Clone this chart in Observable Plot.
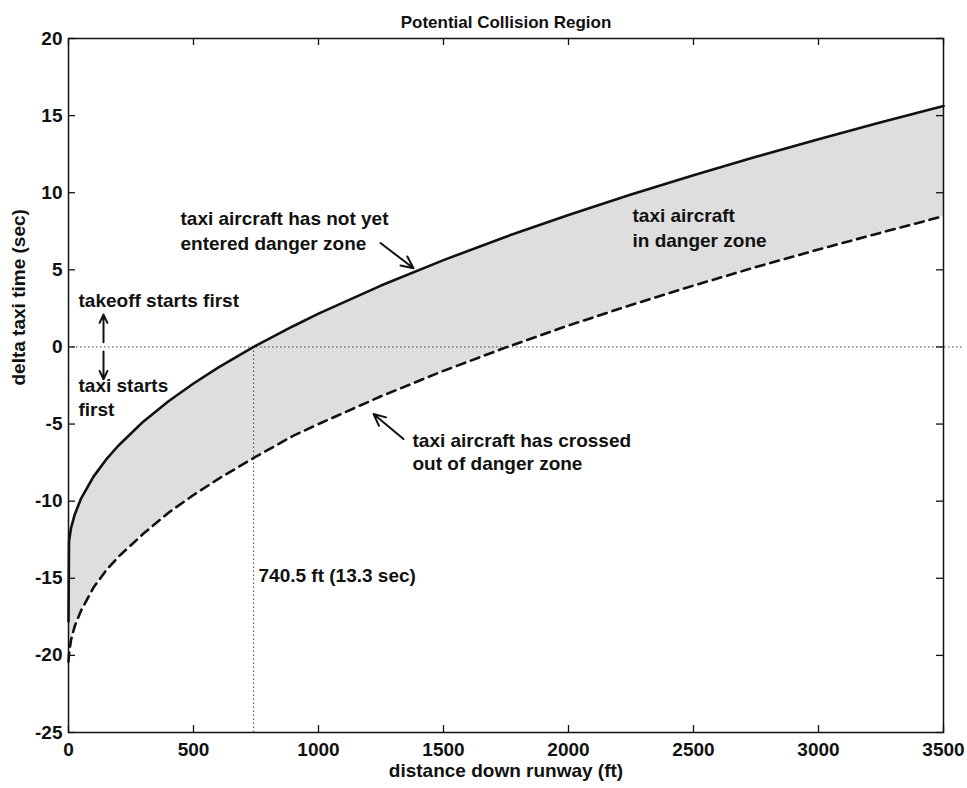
<!DOCTYPE html>
<html>
<head>
<meta charset="utf-8">
<script src="https://cdn.jsdelivr.net/npm/d3@7"></script>
<script src="https://cdn.jsdelivr.net/npm/@observablehq/plot@0.6"></script>
<style>
  html, body { margin: 0; padding: 0; background: #fff; }
</style>
</head>
<body>
<div id="chart"></div>
<script>
// ---- data ----
const distance = [0, 2, 10, 25, 50, 100, 150, 200, 300, 400, 500, 600, 740.5, 900, 1000, 1250, 1500, 1750, 2000, 2250, 2500, 2750, 3000, 3250, 3500];
// solid line: taxi aircraft enters danger zone
const upperTime = [-17.8, -12.6, -11.75, -10.86, -9.84, -8.41, -7.31, -6.39, -4.83, -3.52, -2.37, -1.33, 0, 1.36, 2.16, 3.98, 5.63, 7.15, 8.56, 9.89, 11.14, 12.33, 13.47, 14.57, 15.62];
// dashed line: taxi aircraft crosses out of danger zone
const lowerTime = [-20.4, -19.9, -19.0, -18.1, -17.1, -15.6, -14.5, -13.6, -12.1, -10.75, -9.6, -8.55, -7.2, -5.75, -5.0, -3.2, -1.55, -0.03, 1.39, 2.72, 3.98, 5.18, 6.32, 7.41, 8.48];

const xTicks = [0, 500, 1000, 1500, 2000, 2500, 3000, 3500];
const yTicks = [-25, -20, -15, -10, -5, 0, 5, 10, 15, 20];
const xDomain = [0, 3500];
const yDomain = [-25, 20];

const crossDistance = 740.5;
const crossLabel = "740.5 ft (13.3 sec)";
const zeroLineEnd = 3576;

const textNotes = [
  {x: 448, y: 8.3, text: "taxi aircraft has not yet"},
  {x: 448, y: 6.7, text: "entered danger zone"},
  {x: 2256, y: 8.5, text: "taxi aircraft"},
  {x: 2256, y: 6.9, text: "in danger zone"},
  {x: 1376, y: -6.1, text: "taxi aircraft has crossed"},
  {x: 1376, y: -7.6, text: "out of danger zone"},
  {x: 40, y: 3.0, text: "takeoff starts first"},
  {x: 40, y: -2.5, text: "taxi starts"},
  {x: 40, y: -4.1, text: "first"},
  {x: 760, y: -14.85, text: crossLabel}
];
const arrows = [
  {x1: 1248, y1: 6.74, x2: 1380, y2: 5.1},
  {x1: 1340, y1: -5.97, x2: 1220, y2: -4.35},
  {x1: 140, y1: 0.3, x2: 140, y2: 2.1},
  {x1: 140, y1: -0.3, x2: 140, y2: -2.1}
];

const curve = distance.map((d, i) => ({x: d, upper: upperTime[i], lower: lowerTime[i]}));

const font = "'Liberation Sans', Arial, Helvetica, sans-serif";
const tickLenX = 7 / 15.42;  // data units of y for ~7px
const tickLenY = 7 / 0.25;   // data units of x for ~7px
const fs = 19;

const chart = Plot.plot({
  width: 967,
  height: 788,
  marginLeft: 68,
  marginRight: 24,
  marginTop: 38,
  marginBottom: 56,
  style: {fontFamily: font, fontSize: fs + "px", fontWeight: "bold", color: "#111", background: "#fff"},
  x: {domain: xDomain},
  y: {domain: yDomain},
  marks: [
    Plot.areaY(curve, {x: "x", y1: "lower", y2: "upper", fill: "#dedede"}),
    Plot.ruleY([0], {x1: 0, x2: zeroLineEnd, stroke: "#444", strokeWidth: 1, strokeDasharray: "1.5,2.5", clip: false}),
    Plot.ruleX([crossDistance], {y1: yDomain[0], y2: 0, stroke: "#444", strokeWidth: 1, strokeDasharray: "1.5,2.5"}),
    Plot.line(curve, {x: "x", y: "upper", stroke: "#111", strokeWidth: 2.6}),
    Plot.line(curve, {x: "x", y: "lower", stroke: "#111", strokeWidth: 2.6, strokeDasharray: "9,6"}),
    // inward ticks on all four sides
    Plot.ruleX(xTicks, {y1: yDomain[0], y2: yDomain[0] + tickLenX, stroke: "#111", strokeWidth: 1.3}),
    Plot.ruleX(xTicks, {y1: yDomain[1], y2: yDomain[1] - tickLenX, stroke: "#111", strokeWidth: 1.3}),
    Plot.ruleY(yTicks, {x1: xDomain[0], x2: xDomain[0] + tickLenY, stroke: "#111", strokeWidth: 1.3}),
    Plot.ruleY(yTicks, {x1: xDomain[1], x2: xDomain[1] - tickLenY, stroke: "#111", strokeWidth: 1.3}),
    Plot.frame({stroke: "#111", strokeWidth: 1.5}),
    Plot.axisX(xTicks, {tickSize: 0, tickPadding: 10, label: null, tickFormat: d => String(d), fontSize: fs, fontWeight: "bold", fill: "#111"}),
    Plot.axisY(yTicks, {tickSize: 0, tickPadding: 6, label: null, tickFormat: d => String(d), fontSize: fs, fontWeight: "bold", fill: "#111"}),
    Plot.arrow(arrows, {x1: "x1", y1: "y1", x2: "x2", y2: "y2", stroke: "#111", strokeWidth: 2, headLength: 10, headAngle: 50}),
    Plot.text(textNotes, {x: "x", y: "y", text: "text", textAnchor: "start", fontSize: fs, fontWeight: "bold", fill: "#111"}),
    Plot.text(["distance down runway (ft)"], {frameAnchor: "bottom", dy: 44, fontSize: fs, fontWeight: "bold", fill: "#111"}),
    Plot.text(["delta taxi time (sec)"], {frameAnchor: "left", dx: -50, rotate: -90, fontSize: fs, fontWeight: "bold", fill: "#111"}),
    Plot.text(["Potential Collision Region"], {frameAnchor: "top", dy: -23, fontSize: 17, fontWeight: "bold", fill: "#111"})
  ]
});
document.getElementById("chart").appendChild(chart);
</script>
</body>
</html>
